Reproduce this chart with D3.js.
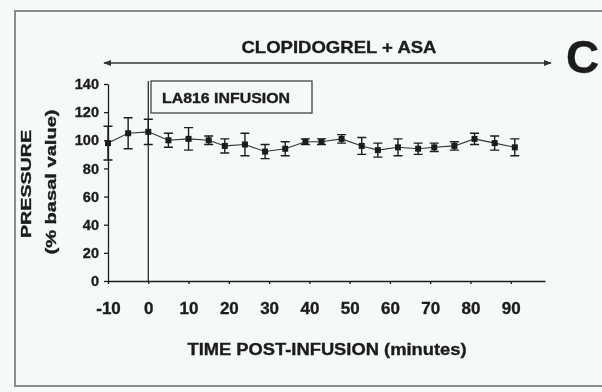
<!DOCTYPE html>
<html>
<head>
<meta charset="utf-8">
<script src="https://cdn.jsdelivr.net/npm/d3@7"></script>
<style>
  html, body { margin: 0; padding: 0; background: #f6f9f9; }
  svg { display: block; filter: blur(0.4px); }
  text { font-family: 'Liberation Sans', Arial, sans-serif; font-weight: bold; fill: #1c1c1c; stroke: #1c1c1c; stroke-width: 0.35px; }
</style>
</head>
<body>
<div id="chart"></div>
<script>
// readings from the figure (time in minutes, pressure in % of basal value)
const times = [-10, -5, 0, 5, 10, 15, 19, 24, 29, 34, 39, 43, 48, 53, 57, 62, 67, 71, 76, 81, 86, 91];
const pressure = [98, 105, 106, 100, 101, 100, 96, 97, 92, 94, 99, 99, 101, 96, 93, 95, 94, 95, 96, 101, 98, 95];
const errors = [12, 11, 9, 5, 8, 3, 5, 8, 5, 5, 2, 2, 3, 6, 5, 6, 4, 3, 3, 4, 5, 6];
const xTicks = [-10, 0, 10, 20, 30, 40, 50, 60, 70, 80, 90];
const yTicks = [0, 20, 40, 60, 80, 100, 120, 140];

const W = 602, H = 392;
const ink = '#1c1c1c';

const svg = d3.select('#chart').append('svg')
    .attr('width', W)
    .attr('height', H);

// scanned-page frame
svg.append('path')
    .attr('d', `M ${W + 5},11 L 15,11 L 15,386 L ${W + 5},386`)
    .attr('fill', 'none')
    .attr('stroke', '#8c8c8c')
    .attr('stroke-width', 2);

const x = d3.scaleLinear().domain([-10, 98.5]).range([108, 545]);
const y = d3.scaleLinear().domain([0, 140]).range([281, 84]);

const data = times.map((t, i) => ({ t, v: pressure[i], e: errors[i] }));

// axes
const xAxisG = svg.append('g')
    .attr('transform', `translate(0,${y(0)})`)
    .call(d3.axisBottom(x).tickValues(xTicks).tickSize(3).tickSizeOuter(0).tickPadding(18)
        .tickFormat(d => d < 0 ? '-' + Math.abs(d) : d));
xAxisG.selectAll('text').style('font-size', '17px').attr('fill', ink);

const yAxisG = svg.append('g')
    .attr('transform', `translate(${x(-10)},0)`)
    .call(d3.axisLeft(y).tickValues(yTicks).tickSize(4).tickSizeOuter(0).tickPadding(5));
yAxisG.selectAll('text').style('font-size', '14.5px').attr('fill', ink);

svg.selectAll('.domain, .tick line').attr('stroke', ink).attr('stroke-width', 1.3);
svg.selectAll('g text').style('font-family', "'Liberation Sans', Arial, sans-serif");

// infusion marker and its label box
svg.append('line')
    .attr('x1', x(0)).attr('x2', x(0))
    .attr('y1', 81).attr('y2', y(0))
    .attr('stroke', ink).attr('stroke-width', 1.2);

svg.append('rect')
    .attr('x', 151).attr('y', 81)
    .attr('width', 161).attr('height', 32)
    .attr('fill', 'none')
    .attr('stroke', '#444').attr('stroke-width', 1.3);

svg.append('text')
    .attr('x', 162).attr('y', 103)
    .attr('textLength', 128).attr('lengthAdjust', 'spacingAndGlyphs')
    .style('font-size', '15px')
    .text('LA816 INFUSION');

// treatment period arrow
const defs = svg.append('defs');
defs.append('marker')
    .attr('id', 'head')
    .attr('viewBox', '0 0 10 10')
    .attr('refX', 9).attr('refY', 5)
    .attr('markerWidth', 5).attr('markerHeight', 5)
    .attr('orient', 'auto-start-reverse')
    .append('path')
    .attr('d', 'M0,1 L10,5 L0,9 Z')
    .attr('fill', '#333');

svg.append('line')
    .attr('x1', 104).attr('x2', 551)
    .attr('y1', 63).attr('y2', 63)
    .attr('stroke', '#333').attr('stroke-width', 1.6)
    .attr('marker-start', 'url(#head)')
    .attr('marker-end', 'url(#head)');

svg.append('text')
    .attr('x', 339).attr('y', 53)
    .attr('text-anchor', 'middle')
    .attr('textLength', 195).attr('lengthAdjust', 'spacingAndGlyphs')
    .style('font-size', '17px')
    .text('CLOPIDOGREL + ASA');

svg.append('text')
    .attr('x', 566).attr('y', 73)
    .style('font-size', '46px')
    .text('C');

// axis titles
svg.append('text')
    .attr('transform', 'translate(31,184) rotate(-90)')
    .attr('text-anchor', 'middle')
    .attr('textLength', 108).attr('lengthAdjust', 'spacingAndGlyphs')
    .style('font-size', '15px')
    .text('PRESSURE');

svg.append('text')
    .attr('transform', 'translate(56,182) rotate(-90)')
    .attr('text-anchor', 'middle')
    .attr('textLength', 145).attr('lengthAdjust', 'spacingAndGlyphs')
    .style('font-size', '14px')
    .text('(% basal value)');

svg.append('text')
    .attr('x', 327).attr('y', 355)
    .attr('text-anchor', 'middle')
    .attr('textLength', 279).attr('lengthAdjust', 'spacingAndGlyphs')
    .style('font-size', '16px')
    .text('TIME POST-INFUSION (minutes)');

// series
const line = d3.line().x(d => x(d.t)).y(d => y(d.v));
svg.append('path')
    .datum(data)
    .attr('fill', 'none')
    .attr('stroke', '#333')
    .attr('stroke-width', 1.1)
    .attr('d', line);

const cap = 4.5;
svg.append('g').selectAll('path')
    .data(data)
    .join('path')
    .attr('d', d => {
        const cx = x(d.t), y0 = y(d.v - d.e), y1 = y(d.v + d.e);
        return `M${cx},${y0} L${cx},${y1} M${cx - cap},${y0} L${cx + cap},${y0} M${cx - cap},${y1} L${cx + cap},${y1}`;
    })
    .attr('fill', 'none')
    .attr('stroke', ink)
    .attr('stroke-width', 1.4);

svg.append('g').selectAll('rect')
    .data(data)
    .join('rect')
    .attr('x', d => x(d.t) - 3)
    .attr('y', d => y(d.v) - 3)
    .attr('width', 6).attr('height', 6)
    .attr('fill', ink);
</script>
</body>
</html>
